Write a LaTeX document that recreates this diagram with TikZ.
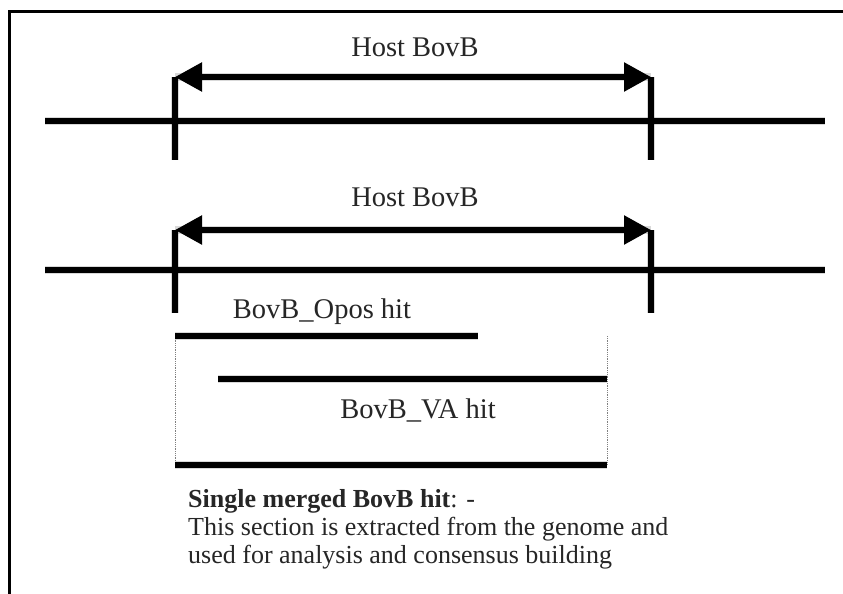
\documentclass[tikz,border=0pt]{standalone}
\usepackage{fontspec}
\setmainfont{Liberation Serif}
\usetikzlibrary{arrows.meta}
\begin{document}
\begin{tikzpicture}[x=1pt,y=-1pt,
    bar/.style={line width=5.5pt,line cap=butt},
    tick/.style={line width=6pt},
    span/.style={line width=5.5pt,{Triangle[length=27pt,width=28pt]}-{Triangle[length=27pt,width=28pt]}},
    guide/.style={densely dotted,line width=0.8pt,gray},
    shade/.style={line width=8pt,black,opacity=0.15,shift={(2,3)}},
    lbl/.style={font=\fontsize{28.5}{32}\selectfont,inner sep=0pt,text=black!85}]
  \useasboundingbox (0,0) rectangle (843,594);
  \fill[white] (0,0) rectangle (843,594);
  % frame (top and left edges)
  \draw[line width=3pt] (9,594) -- (9,12) -- (843,12);

  % ---------- upper host locus ----------
  \coordinate (a1L) at (45,121);   \coordinate (a1R) at (825,121);
  \coordinate (t1Lt) at (175,77);  \coordinate (t1Lb) at (175,160);
  \coordinate (t1Rt) at (651,77);  \coordinate (t1Rb) at (651,160);
  \draw[shade] (a1L) -- (a1R);
  \draw[shade] (t1Lt) -- (t1Lb);  \draw[shade] (t1Rt) -- (t1Rb);
  \draw[shade] (t1Lt) -- (t1Rt);
  \draw[bar] (a1L) -- (a1R);
  \draw[tick] (t1Lt) -- (t1Lb);
  \draw[tick] (t1Rt) -- (t1Rb);
  \draw[span] (t1Lt) -- (t1Rt);
  \node[lbl] (h1) at (415,47) {Host BovB};

  % ---------- lower host locus ----------
  \coordinate (a2L) at (45,270);   \coordinate (a2R) at (825,270);
  \coordinate (t2Lt) at (175,230); \coordinate (t2Lb) at (175,313);
  \coordinate (t2Rt) at (651,230); \coordinate (t2Rb) at (651,313);
  \draw[shade] (a2L) -- (a2R);
  \draw[shade] (t2Lt) -- (t2Lb);  \draw[shade] (t2Rt) -- (t2Rb);
  \draw[shade] (t2Lt) -- (t2Rt);
  \draw[bar] (a2L) -- (a2R);
  \draw[tick] (t2Lt) -- (t2Lb);
  \draw[tick] (t2Rt) -- (t2Rb);
  \draw[span] (t2Lt) -- (t2Rt);
  \node[lbl] (h2) at (415,197) {Host BovB};

  % ---------- hits ----------
  \coordinate (oL) at (175,336);  \coordinate (oR) at (478,336);
  \coordinate (vL) at (218,379);  \coordinate (vR) at (607,379);
  \coordinate (mL) at (175,465);  \coordinate (mR) at (607,465);
  \coordinate (gR) at (607,336);
  \draw[guide] (oL) -- (mL);
  \draw[guide] (gR) -- (mR);
  \draw[shade] (oL) -- (oR);
  \draw[shade] (vL) -- (vR);
  \draw[shade] (mL) -- (mR);
  \draw[bar] (oL) -- (oR);
  \draw[bar] (vL) -- (vR);
  \draw[bar] (mL) -- (mR);
  \node[lbl] (opos) at (322,312) {BovB\_Opos hit};
  \node[lbl] (va) at (418,410) {BovB\_VA hit};

  % ---------- caption ----------
  \node[lbl,anchor=north west,align=left,font=\fontsize{26}{28}\selectfont] (cap) at (188,489)
    {\textbf{Single merged BovB hit}: -\\
     This section is extracted from the genome and\\
     used for analysis and consensus building};
\end{tikzpicture}
\end{document}
